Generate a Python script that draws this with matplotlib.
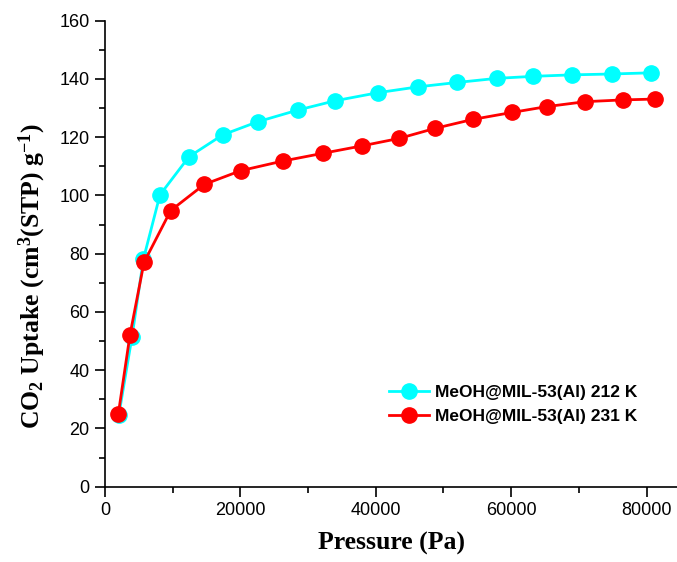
import matplotlib
matplotlib.use("Agg")
import matplotlib.pyplot as plt
from matplotlib.ticker import MultipleLocator

# Data
p_212 = [2050, 3990, 5670, 8120, 12410, 17380, 22550, 28460, 33970, 40370,
         46280, 52040, 57860, 63270, 68930, 74840, 80600]
q_212 = [24.7, 51.5, 78.1, 100.2, 113.3, 120.8, 125.3, 129.3, 132.5, 135.3,
         137.3, 138.8, 140.2, 140.9, 141.4, 141.7, 142.1]
p_231 = [1970, 3690, 5760, 9700, 14670, 20040, 26240, 32250, 37910, 43480,
         48700, 54310, 60120, 65240, 70950, 76470, 81290]
q_231 = [25.0, 52.1, 77.0, 94.8, 103.8, 108.5, 111.8, 114.5, 117.0, 119.6,
         123.0, 126.1, 128.5, 130.5, 132.2, 132.8, 133.1]
labels = ["MeOH@MIL-53(Al) 212 K", "MeOH@MIL-53(Al) 231 K"]
colors = ["#00ffff", "#ff0000"]
xticks = [0, 20000, 40000, 60000, 80000]
yticks = [0, 20, 40, 60, 80, 100, 120, 140, 160]

plt.rcParams['mathtext.default'] = 'regular'

W, H = 677, 562
fig = plt.figure(figsize=(W / 100, H / 100), dpi=100)
left, bottom, top = 105 / W, 1 - 486.7 / H, 1 - 20.7 / H
ax = fig.add_axes([left, bottom, 572 / W, top - bottom])

ax.plot(p_212, q_212, '-o', color=colors[0], lw=2, ms=11, label=labels[0], zorder=2)
ax.plot(p_231, q_231, '-o', color=colors[1], lw=2, ms=11, label=labels[1], zorder=3)

ax.set_xlim(0, 84500)
ax.set_ylim(0, 160)
ax.set_xticks(xticks)
ax.set_yticks(yticks)
ax.xaxis.set_minor_locator(MultipleLocator(10000))
ax.yaxis.set_minor_locator(MultipleLocator(10))
for s in ['top', 'right']:
    ax.spines[s].set_visible(False)
for s in ['left', 'bottom']:
    ax.spines[s].set_linewidth(1.2)
ax.tick_params(which='major', direction='out', length=7, width=1.2, pad=4,
               labelsize=13)
ax.tick_params(which='minor', direction='out', length=4, width=1.2)
for lab in ax.get_xticklabels() + ax.get_yticklabels():
    lab.set_fontfamily('Liberation Sans')

ax.set_xlabel('Pressure (Pa)', fontfamily='Liberation Serif', fontweight='bold',
              fontsize=18.5)
ax.xaxis.set_label_coords(0.5, -0.098)
ax.set_ylabel('CO$_2$ Uptake (cm$^3$(STP) g$^{-1}$)', fontfamily='Liberation Serif',
              fontweight='bold', fontsize=18.5)
ax.yaxis.set_label_coords(-0.1, 0.452)

leg = ax.legend(loc='center left', bbox_to_anchor=(0.47, 0.177), frameon=False,
                prop={'family': 'Liberation Sans', 'weight': 'bold', 'size': 12.5},
                handlelength=2.3, handletextpad=0.35, labelspacing=0.5)

fig.savefig('out.png', dpi=100)
